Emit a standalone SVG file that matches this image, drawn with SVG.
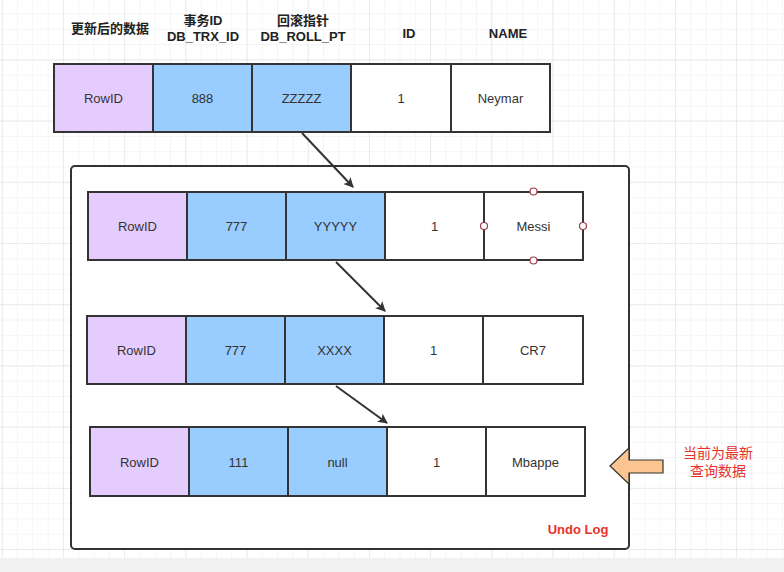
<svg xmlns="http://www.w3.org/2000/svg" width="784" height="572" viewBox="0 0 784 572">
<defs>
<pattern id="grid" x="2.7" y="-0.8" width="15.3" height="15.3" patternUnits="userSpaceOnUse">
<path d="M15.3 0V15.3M0 15.3H15.3" fill="none" stroke="#ececec" stroke-width="1"/>
</pattern>
<pattern id="gridM" x="2.7" y="-0.8" width="61.2" height="61.2" patternUnits="userSpaceOnUse">
<path d="M61.2 0V61.2M0 61.2H61.2" fill="none" stroke="#e0e0e0" stroke-width="1"/>
</pattern>
<marker id="ah" viewBox="0 0 10 10" refX="9" refY="5" markerWidth="10" markerHeight="10" markerUnits="userSpaceOnUse" orient="auto">
<path d="M0 0L10 5L0 10L2.5 5Z" fill="#333"/>
</marker>
<style>
.c{stroke:#333;stroke-width:2}
.p{fill:#E5CCFF}
.b{fill:#99CCFF}
.w{fill:#fff}
.t{font-family:"Liberation Sans","Noto Sans CJK SC",sans-serif;font-size:13px;fill:#333;text-anchor:middle}
.h{font-family:"Liberation Sans","Noto Sans CJK SC",sans-serif;font-size:13px;fill:#222;font-weight:bold;text-anchor:middle}
.r{font-family:"Liberation Sans","Noto Sans CJK SC",sans-serif;font-size:14px;fill:#e8302c;text-anchor:middle}
.hd{fill:#fff;stroke:#a3384a;stroke-width:1.2}
.cn{stroke:#333;stroke-width:2;fill:none}
</style>
</defs>
<rect width="784" height="572" fill="#fff"/>
<rect width="784" height="558" fill="url(#grid)"/>
<rect width="784" height="558" fill="url(#gridM)"/>
<rect y="558" width="784" height="14" fill="#f1f1f1"/>

<g id="headers">
<text class="h" x="110" y="33">更新后的数据</text>
<text class="h" x="203" y="25">事务ID</text>
<text class="h" x="203" y="41">DB_TRX_ID</text>
<text class="h" x="303" y="25">回滚指针</text>
<text class="h" x="303" y="41">DB_ROLL_PT</text>
<text class="h" x="409" y="38">ID</text>
<text class="h" x="508" y="38">NAME</text>
</g>

<g id="undo-log">
<rect x="71" y="166" width="558" height="383" rx="4" fill="#fff" stroke="#333" stroke-width="2"/>
<text x="578" y="534" font-family="Liberation Sans, sans-serif" font-size="13" font-weight="bold" fill="#e8302c" text-anchor="middle">Undo Log</text>
</g>

<g id="row-current">
<rect class="c p" x="54" y="64" width="99" height="68"/>
<rect class="c b" x="153" y="64" width="99" height="68"/>
<rect class="c b" x="252" y="64" width="99" height="68"/>
<rect class="c w" x="351" y="64" width="100" height="68"/>
<rect class="c w" x="451" y="64" width="99" height="68"/>
<text class="t" x="103.5" y="103">RowID</text>
<text class="t" x="202.5" y="103">888</text>
<text class="t" x="301.5" y="103">ZZZZZ</text>
<text class="t" x="401" y="103">1</text>
<text class="t" x="500.5" y="103">Neymar</text>
</g>

<g id="row-messi">
<rect class="c p" x="88" y="192" width="99" height="68"/>
<rect class="c b" x="187" y="192" width="99" height="68"/>
<rect class="c b" x="286" y="192" width="99" height="68"/>
<rect class="c w" x="385" y="192" width="99" height="68"/>
<rect class="c w" x="484" y="192" width="99" height="68"/>
<text class="t" x="137.5" y="231">RowID</text>
<text class="t" x="236.5" y="231">777</text>
<text class="t" x="335.5" y="231">YYYYY</text>
<text class="t" x="434.5" y="231">1</text>
<text class="t" x="533.5" y="231">Messi</text>
<circle class="hd" cx="533.5" cy="191.5" r="3.5"/>
<circle class="hd" cx="484" cy="226" r="3.5"/>
<circle class="hd" cx="583" cy="226" r="3.5"/>
<circle class="hd" cx="533.5" cy="260.5" r="3.5"/>
</g>

<g id="row-cr7">
<rect class="c p" x="87" y="316" width="99" height="68"/>
<rect class="c b" x="186" y="316" width="99" height="68"/>
<rect class="c b" x="285" y="316" width="99" height="68"/>
<rect class="c w" x="384" y="316" width="99" height="68"/>
<rect class="c w" x="483" y="316" width="100" height="68"/>
<text class="t" x="136.5" y="355">RowID</text>
<text class="t" x="235.5" y="355">777</text>
<text class="t" x="334.5" y="355">XXXX</text>
<text class="t" x="433.5" y="355">1</text>
<text class="t" x="533" y="355">CR7</text>
</g>

<g id="row-mbappe">
<rect class="c p" x="90" y="427" width="99" height="69"/>
<rect class="c b" x="189" y="427" width="99" height="69"/>
<rect class="c b" x="288" y="427" width="99" height="69"/>
<rect class="c w" x="387" y="427" width="99" height="69"/>
<rect class="c w" x="486" y="427" width="99" height="69"/>
<text class="t" x="139.5" y="467">RowID</text>
<text class="t" x="238.5" y="467">111</text>
<text class="t" x="337.5" y="467">null</text>
<text class="t" x="436.5" y="467">1</text>
<text class="t" x="535.5" y="467">Mbappe</text>
</g>

<g id="current-marker">
<polygon points="610,466 629,448 629,460 663,460 663,473 629,473 629,484" fill="#FAC590" stroke="#333" stroke-width="1.2"/>
<text class="r" x="718" y="458">当前为最新</text>
<text class="r" x="718" y="476">查询数据</text>
</g>

<g id="connectors">
<line class="cn" x1="302" y1="133" x2="353" y2="187" marker-end="url(#ah)"/>
<line class="cn" x1="336" y1="262" x2="385" y2="311" marker-end="url(#ah)"/>
<line class="cn" x1="336" y1="386" x2="387" y2="423" marker-end="url(#ah)"/>
</g>
</svg>
